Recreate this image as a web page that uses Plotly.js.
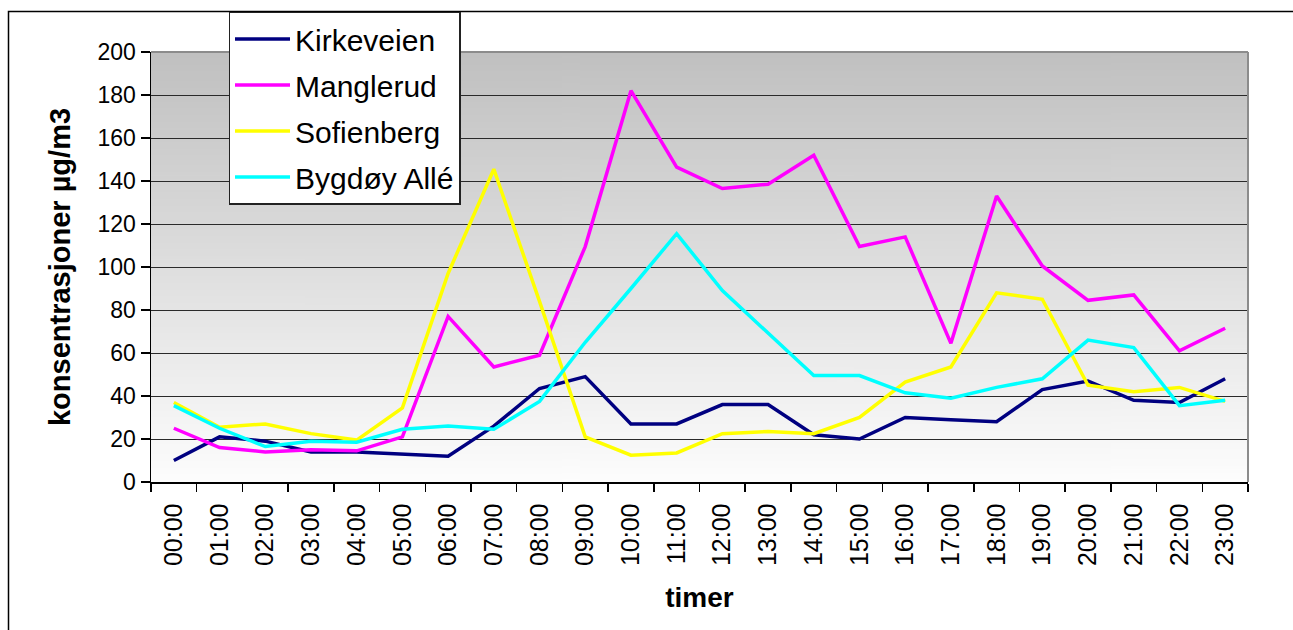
<!DOCTYPE html>
<html>
<head>
<meta charset="utf-8">
<script src="https://cdn.plot.ly/plotly-3.0.1.min.js"></script>
<style>html,body{margin:0;padding:0;background:#fff;}#chart{width:1293px;height:630px;}</style>
</head>
<body>
<div id="chart"></div>
<script>
const hours = ["00:00","01:00","02:00","03:00","04:00","05:00","06:00","07:00","08:00","09:00","10:00","11:00",
               "12:00","13:00","14:00","15:00","16:00","17:00","18:00","19:00","20:00","21:00","22:00","23:00"];
const kirkeveien = [10, 21, 19, 14, 14, 13, 12, 26, 43.5, 49, 27, 27, 36, 36, 22, 20, 30, 29, 28, 43, 47, 38, 37, 48];
const manglerud  = [25, 16, 14, 15, 14.5, 21, 77, 53.5, 59, 109.5, 182, 146.5, 136.5, 138.5, 152, 109.5, 114, 64.5, 133, 100.5, 84.5, 87, 61, 71.5];
const sofienberg = [37, 25.5, 27, 22.5, 19.5, 34.5, 97, 145.5, 84, 21, 12.5, 13.5, 22.5, 23.5, 22.5, 30, 46.5, 53.5, 88, 85, 45, 42, 44, 37.5];
const bygdoy     = [35.5, 25, 16.5, 19, 18.5, 24.5, 26, 24.5, 37.5, 65, 90, 115.5, 89, 69, 49.5, 49.5, 41.5, 39, 44, 48, 66, 62.5, 35.5, 38];
const seriesNames = ["Kirkeveien", "Manglerud", "Sofienberg", "Bygdøy Allé"];
const seriesColors = ["#000080", "#ff00ff", "#ffff00", "#00ffff"];
const seriesData = [kirkeveien, manglerud, sofienberg, bygdoy];

// vertical gradient background image
const cv = document.createElement('canvas');
cv.width = 4; cv.height = 256;
const ctx = cv.getContext('2d');
const grd = ctx.createLinearGradient(0, 0, 0, 256);
grd.addColorStop(0, 'rgb(192,192,192)');
grd.addColorStop(1, 'rgb(253,253,253)');
ctx.fillStyle = grd;
ctx.fillRect(0, 0, 4, 256);
const bgURL = cv.toDataURL('image/png');

const FONT = "Arial, 'Liberation Sans', sans-serif";

const traces = seriesNames.map((n, i) => ({
  type: 'scatter', mode: 'lines', name: n, x: hours, y: seriesData[i],
  line: {color: seriesColors[i], width: 3.5}, legendgroup: 'g' + i
}));

const L = 151, R = 1248, T = 52, B = 482;
const pw = R - L, ph = B - T;
function px(x) { return (x - L) / pw; }
function py(y) { return (B - y) / ph; }

const layout = {
  width: 1293, height: 630,
  margin: {l: L, r: 1293 - R, t: T, b: 630 - B, pad: 0},
  paper_bgcolor: '#ffffff',
  plot_bgcolor: 'rgba(0,0,0,0)',
  font: {family: FONT, color: '#000'},
  showlegend: true,
  legend: {
    x: px(228.5), y: py(11.5), xanchor: 'left', yanchor: 'top',
    bgcolor: '#ffffff', bordercolor: '#222222', borderwidth: 1.5,
    font: {family: FONT, size: 30, color: '#000'},
    tracegroupgap: 4, itemwidth: 55
  },
  xaxis: {
    type: 'category', range: [-0.5, 23.5], showgrid: false,
    showline: true, linecolor: '#000', linewidth: 1.5,
    ticks: 'outside', ticklen: 8, tickcolor: '#000', tickwidth: 1.5,
    tickson: 'boundaries', tickangle: -90, ticklabelstandoff: 10,
    tickfont: {family: FONT, size: 25, color: '#000'},
    title: {text: 'timer', font: {family: FONT, size: 28, color: '#000', weight: 'bold'}, standoff: 22},
    fixedrange: true
  },
  yaxis: {
    range: [0, 200], dtick: 20, tick0: 0,
    showgrid: true, gridcolor: '#2a2a2a', gridwidth: 1,
    showline: true, linecolor: '#000', linewidth: 1.5,
    ticks: 'outside', ticklen: 9, tickcolor: '#000', tickwidth: 1.5,
    tickfont: {family: FONT, size: 23, color: '#000'},
    zeroline: false,
    title: {text: 'konsentrasjoner µg/m3', font: {family: FONT, size: 29, color: '#000', weight: 'bold'}, standoff: 18},
    fixedrange: true
  },
  images: [{
    source: bgURL, xref: 'paper', yref: 'paper', x: 0, y: 1, sizex: 1, sizey: 1,
    xanchor: 'left', yanchor: 'top', sizing: 'stretch', layer: 'below'
  }],
  shapes: [
    // outer frame (clipped at right/bottom)
    {type: 'rect', xref: 'paper', yref: 'paper', x0: px(8.5), x1: px(1320), y0: py(11.5), y1: py(660),
     line: {color: '#000', width: 1.5}, fillcolor: 'rgba(0,0,0,0)', layer: 'below'},
    // plot area top and right border in gray
    {type: 'line', xref: 'paper', yref: 'paper', x0: 0, x1: 1, y0: 1, y1: 1, line: {color: '#8c8c8c', width: 2}},
    {type: 'line', xref: 'paper', yref: 'paper', x0: 1, x1: 1, y0: 0, y1: 1, line: {color: '#8c8c8c', width: 2}}
  ]
};

Plotly.newPlot('chart', traces, layout, {staticPlot: true, displayModeBar: false});
</script>
</body>
</html>
